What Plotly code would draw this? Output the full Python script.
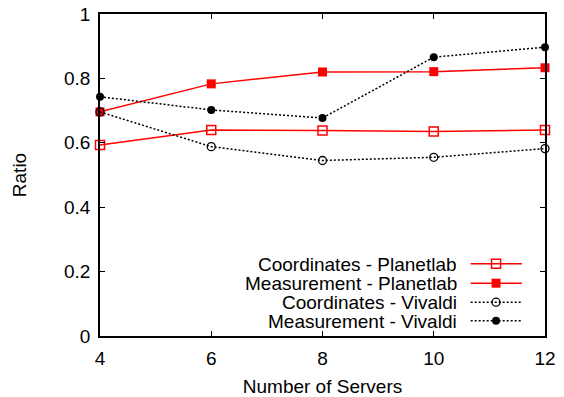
import plotly.graph_objects as go

# Number of servers on the x axis
servers = [4, 6, 8, 10, 12]

# Ratio per configuration
coord_planetlab = [0.593, 0.640, 0.638, 0.635, 0.640]
meas_planetlab = [0.696, 0.783, 0.820, 0.821, 0.833]
coord_vivaldi = [0.696, 0.588, 0.545, 0.555, 0.582]
meas_vivaldi = [0.743, 0.702, 0.677, 0.866, 0.897]

series_names = [
    "Coordinates - Planetlab",
    "Measurement - Planetlab",
    "Coordinates - Vivaldi",
    "Measurement - Vivaldi",
]

x_ticks = [4, 6, 8, 10, 12]
y_ticks = [0, 0.2, 0.4, 0.6, 0.8, 1]
y_tick_text = ["0", "0.2", "0.4", "0.6", "0.8", "1"]

FONT = "Liberation Sans, Arial, Helvetica, sans-serif"
RED = "#ff0000"
BLACK = "#000000"
DOT = "2px,2px"

styles = [
    dict(line=dict(color=RED, width=1.5),
         marker=dict(symbol="square-open", size=9, color=RED, line=dict(width=1.5, color=RED))),
    dict(line=dict(color=RED, width=1.5),
         marker=dict(symbol="square", size=9, color=RED)),
    dict(line=dict(color=BLACK, width=1.5, dash=DOT),
         marker=dict(symbol="circle-open", size=8, color=BLACK, line=dict(width=1.3, color=BLACK))),
    dict(line=dict(color=BLACK, width=1.5, dash=DOT),
         marker=dict(symbol="circle", size=8, color=BLACK)),
]

fig = go.Figure()
for name, ys, st in zip(series_names, [coord_planetlab, meas_planetlab, coord_vivaldi, meas_vivaldi], styles):
    fig.add_trace(go.Scatter(x=servers, y=ys, mode="lines+markers", name=name,
                             line=st["line"], marker=st["marker"], showlegend=False,
                             cliponaxis=False))

# Key in the lower right: label text right-aligned, sample line to its right
key_rows = [0.224, 0.164, 0.105, 0.047]
key_text_x = 0.807
key_line_x = [0.833, 0.948]
key_mark_x = 0.890
for name, row, st in zip(series_names, key_rows, styles):
    fig.add_trace(go.Scatter(x=key_line_x, y=[row, row], mode="lines", line=st["line"],
                             xaxis="x2", yaxis="y2", showlegend=False, hoverinfo="skip"))
    fig.add_trace(go.Scatter(x=[key_mark_x], y=[row], mode="markers", marker=st["marker"],
                             xaxis="x2", yaxis="y2", showlegend=False, hoverinfo="skip"))
    fig.add_annotation(x=key_text_x, y=row, xref="x2", yref="y2", text=name,
                       showarrow=False, xanchor="right", yanchor="middle", height=18,
                       font=dict(family=FONT, size=19, color="#000000"))

axis_common = dict(
    showline=True, mirror="ticks", linecolor="#000000", linewidth=1.5,
    ticks="inside", ticklen=5, tickwidth=1.2, tickcolor="#000000",
    showgrid=False, zeroline=False, automargin=False,
    tickfont=dict(family=FONT, size=19, color="#000000"),
)

fig.update_layout(
    width=564, height=397,
    margin=dict(l=100, r=19, t=14, b=61),
    paper_bgcolor="white", plot_bgcolor="white",
    font=dict(family=FONT, color="#000000"),
    xaxis=dict(range=[4, 12], tickvals=x_ticks, ticktext=[str(t) for t in x_ticks],
               ticklabelstandoff=4,
               title=dict(text="Number of Servers", font=dict(family=FONT, size=19, color="#000000"),
                          standoff=12),
               **axis_common),
    yaxis=dict(range=[0, 1], tickvals=y_ticks, ticktext=y_tick_text,
               ticklabelstandoff=4,
               title=dict(text="Ratio", font=dict(family=FONT, size=19, color="#000000"),
                          standoff=32),
               **axis_common),
    xaxis2=dict(range=[0, 1], overlaying="x", visible=False, fixedrange=True),
    yaxis2=dict(range=[0, 1], overlaying="y", visible=False, fixedrange=True),
    showlegend=False,
)

fig.write_html("out.html")
